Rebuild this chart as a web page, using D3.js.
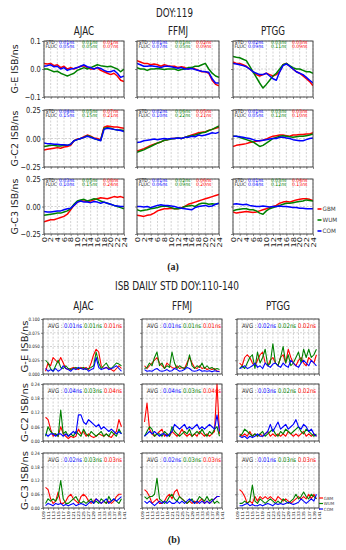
<!DOCTYPE html>
<html>
<head>
<meta charset="utf-8">
<script src="https://cdn.jsdelivr.net/npm/d3@7"></script>
<style>body{margin:0;background:#fff}</style>
</head>
<body>
<div id="chart"></div>
<script>
// ---- categories / ticks
const stations = ["AJAC", "FFMJ", "PTGG"]
const rowLabels = ["G-E ISB/ns", "G-C2 ISB/ns", "G-C3 ISB/ns"]
const seriesNames = ["GBM", "WUM", "COM"]
const seriesColors = ["#ff0000", "#008000", "#0000ff"]
const hours = [0,1,2,3,4,5,6,7,8,9,10,11,12,13,14,15,16,17,18,19,20,21,22,23,24]
const hourTicks = [0,2,4,6,8,10,12,14,16,18,20,22,24]
const days = [110,111,112,113,114,115,116,117,118,119,120,121,122,123,124,125,126,127,128,129,130,131,132,133,134,135,136,137,138,139,140]
const dayTicks = [109,111,113,115,117,119,121,123,125,127,129,131,133,135,137,139,141]
const yTicksA = [[-0.1, 0, 0.1], [-0.25, 0, 0.25], [-0.25, 0, 0.25]]
const yTicksB = [[0, 0.025, 0.05, 0.075, 0.1], [0, 0.06, 0.12, 0.18, 0.24], [0, 0.06, 0.12, 0.18, 0.24]]

// ---- (a) DOY 119 ISB series, hourly, per station [GBM, WUM, COM]
const hAJAC_E_gbm = [0.02,0.018,0.02,0.012,0.015,0.005,0.01,0.0,0.005,0.0,0.005,0.01,0.012,0.005,0.0,0.0,0.005,-0.005,-0.01,-0.015,-0.02,-0.015,-0.025,-0.04,-0.045]
const hAJAC_E_wum = [0.0,0.0,-0.005,-0.01,-0.008,-0.015,-0.02,-0.025,-0.02,-0.015,-0.005,0.0,0.005,0.0,0.005,0.01,0.015,0.012,0.01,0.008,0.01,0.005,0.0,-0.01,0.0]
const hAJAC_E_com = [0.01,0.012,0.015,0.008,0.01,0.0,0.005,-0.005,0.0,0.002,0.005,0.01,0.015,0.008,0.005,0.0,0.005,0.002,-0.005,-0.01,-0.01,-0.005,-0.015,-0.03,-0.025]
const hFFMJ_E_gbm = [0.03,0.025,0.02,0.02,0.015,0.018,0.015,0.01,0.015,0.012,0.01,0.01,0.005,0.008,0.005,0.0,0.005,0.0,-0.005,-0.01,-0.01,-0.015,-0.04,-0.055,-0.06]
const hFFMJ_E_wum = [0.005,0.0,0.0,-0.005,0.0,0.0,0.002,0.0,-0.002,0.0,0.0,0.0,-0.005,-0.002,0.0,0.005,0.005,0.01,0.01,0.015,0.02,0.0,-0.015,-0.025,-0.03]
const hFFMJ_E_com = [0.02,0.015,0.01,0.01,0.012,0.01,0.008,0.005,0.01,0.01,0.008,0.005,0.003,0.005,0.0,0.0,0.002,-0.002,-0.005,-0.008,-0.01,-0.012,-0.035,-0.05,-0.05]
const hPTGG_E_gbm = [0.025,0.02,0.02,0.015,0.01,0.0,-0.01,-0.02,-0.025,-0.02,-0.015,-0.02,-0.025,-0.02,-0.01,0.015,0.02,0.01,0.0,-0.01,-0.015,-0.025,-0.035,-0.045,-0.06]
const hPTGG_E_wum = [0.045,0.042,0.04,0.035,0.03,0.01,-0.01,-0.03,-0.05,-0.068,-0.055,-0.04,-0.025,-0.015,0.0,0.015,0.02,0.012,0.005,0.0,0.0,-0.005,-0.01,-0.01,-0.015]
const hPTGG_E_com = [0.02,0.018,0.015,0.012,0.008,0.0,-0.01,-0.015,-0.02,-0.02,-0.015,-0.025,-0.035,-0.04,-0.01,0.012,0.018,0.01,0.0,-0.01,-0.015,-0.02,-0.03,-0.04,-0.05]

const hAJAC_C2_gbm = [-0.1,-0.095,-0.09,-0.085,-0.08,-0.085,-0.075,-0.07,-0.06,-0.02,-0.005,0.0,0.015,0.03,0.02,0.005,0.0,-0.01,0.1,0.11,0.105,0.1,0.1,0.095,0.09]
const hAJAC_C2_wum = [-0.07,-0.065,-0.06,-0.06,-0.065,-0.065,-0.06,-0.06,-0.05,-0.02,-0.01,0.0,0.01,0.025,0.015,0.0,-0.01,-0.015,0.09,0.095,0.09,0.08,0.075,0.075,0.07]
const hAJAC_C2_com = [-0.04,-0.045,-0.045,-0.05,-0.05,-0.055,-0.055,-0.06,-0.05,-0.02,-0.01,0.0,0.01,0.02,0.01,0.0,-0.01,-0.02,0.08,0.09,0.085,0.08,0.075,0.07,0.06]
const hFFMJ_C2_gbm = [-0.11,-0.1,-0.09,-0.075,-0.06,-0.05,-0.04,-0.03,-0.015,-0.01,0.0,0.0,0.005,0.0,0.01,0.02,0.03,0.04,0.05,0.055,0.06,0.07,0.08,0.09,0.1]
const hFFMJ_C2_wum = [-0.12,-0.11,-0.1,-0.085,-0.07,-0.055,-0.04,-0.03,-0.015,-0.01,-0.005,0.0,0.005,0.0,0.01,0.02,0.025,0.03,0.04,0.05,0.055,0.07,0.08,0.095,0.11]
const hFFMJ_C2_com = [-0.035,-0.03,-0.02,-0.015,-0.01,-0.005,-0.01,-0.005,0.0,-0.005,0.0,0.0,0.005,0.0,0.01,0.01,0.02,0.015,0.03,0.025,0.03,0.04,0.05,0.045,0.055]
const hPTGG_C2_gbm = [-0.07,-0.06,-0.055,-0.05,-0.045,-0.035,-0.03,-0.025,-0.02,-0.015,-0.005,0.01,0.02,0.025,0.03,0.03,0.025,0.02,0.03,0.03,0.035,0.035,0.04,0.04,0.05]
const hPTGG_C2_wum = [0.02,0.02,0.01,0.0,-0.01,-0.02,-0.03,-0.05,-0.07,-0.06,-0.04,-0.02,0.0,0.01,0.02,0.025,0.02,0.015,0.01,0.015,0.02,0.02,0.025,0.03,0.04]
const hPTGG_C2_com = [0.02,0.02,0.015,0.01,0.005,0.0,-0.01,-0.02,-0.02,-0.015,-0.01,-0.005,0.0,0.0,0.01,0.01,0.005,0.0,-0.01,-0.015,-0.02,-0.02,-0.01,0.0,0.005]

const hAJAC_C3_gbm = [-0.14,-0.13,-0.12,-0.12,-0.11,-0.1,-0.09,-0.07,-0.03,0.01,0.04,0.05,0.05,0.045,0.05,0.06,0.07,0.08,0.075,0.07,0.08,0.09,0.085,0.09,0.08]
const hAJAC_C3_wum = [-0.08,-0.075,-0.07,-0.065,-0.06,-0.06,-0.05,-0.04,-0.02,0.02,0.05,0.06,0.065,0.05,0.06,0.07,0.065,0.05,0.04,0.03,0.02,0.01,0.0,-0.01,-0.02]
const hAJAC_C3_com = [-0.045,-0.05,-0.05,-0.045,-0.04,-0.04,-0.03,-0.02,-0.015,0.01,0.04,0.05,0.04,0.04,0.035,0.045,0.04,0.03,0.04,0.03,0.02,0.01,0.005,0.0,0.0]
const hFFMJ_C3_gbm = [-0.08,-0.085,-0.09,-0.08,-0.075,-0.06,-0.04,-0.03,-0.02,-0.02,-0.015,-0.02,-0.02,-0.01,0.0,0.02,0.03,0.04,0.05,0.06,0.07,0.08,0.09,0.1,0.11]
const hFFMJ_C3_wum = [-0.03,-0.04,-0.035,-0.03,-0.02,-0.015,-0.01,0.0,0.005,0.0,-0.01,-0.02,-0.02,-0.015,0.0,0.005,0.01,0.0,0.02,0.03,0.03,0.02,0.025,0.02,0.03]
const hFFMJ_C3_com = [0.0,0.0,-0.005,0.0,-0.01,0.0,0.01,0.015,0.01,0.01,0.005,0.0,-0.01,-0.015,-0.02,-0.025,-0.03,-0.01,0.0,0.005,0.01,0.0,0.005,0.02,0.03]
const hPTGG_C3_gbm = [-0.05,-0.06,-0.055,-0.05,-0.045,-0.05,-0.055,-0.05,-0.04,-0.03,-0.02,-0.01,0.0,0.01,0.03,0.04,0.045,0.04,0.05,0.06,0.065,0.07,0.07,0.065,0.055]
const hPTGG_C3_wum = [-0.04,-0.03,-0.025,-0.02,-0.02,-0.03,-0.03,-0.04,-0.06,-0.07,-0.04,-0.02,-0.01,0.0,0.01,0.02,0.03,0.03,0.035,0.04,0.045,0.05,0.06,0.055,0.05]
const hPTGG_C3_com = [0.02,0.025,0.02,0.015,0.02,0.01,0.005,0.0,0.0,0.005,0.0,-0.005,0.0,0.0,0.005,0.0,0.0,-0.005,-0.01,-0.01,-0.015,-0.015,-0.02,-0.02,-0.02]

// STD / FLUC per station, shown as [COM, WUM, GBM] (blue, green, red)
const stdE = [[0.01,0.01,0.01],[0.01,0.01,0.02],[0.02,0.03,0.03]]
const flucE = [[0.05,0.05,0.07],[0.07,0.05,0.09],[0.09,0.11,0.09]]
const stdC2 = [[0.04,0.05,0.07],[0.02,0.06,0.05],[0.01,0.03,0.03]]
const flucC2 = [[0.15,0.15,0.21],[0.10,0.22,0.21],[0.05,0.12,0.10]]
const stdC3 = [[0.03,0.05,0.08],[0.01,0.02,0.06],[0.01,0.03,0.04]]
const flucC3 = [[0.10,0.15,0.24],[0.06,0.09,0.20],[0.04,0.12,0.13]]

// ---- (b) daily STD DOY 110-140
const dAJAC_E_gbm = [0.005,0.02,0.015,0.03,0.025,0.02,0.03,0.02,0.01,0.008,0.01,0.012,0.01,0.008,0.012,0.01,0.012,0.008,0.02,0.035,0.045,0.04,0.015,0.01,0.012,0.01,0.008,0.005,0.01,0.015,0.01]
const dAJAC_E_wum = [0.025,0.02,0.01,0.005,0.015,0.025,0.012,0.01,0.015,0.01,0.008,0.01,0.012,0.01,0.01,0.012,0.008,0.01,0.012,0.015,0.04,0.02,0.01,0.015,0.02,0.012,0.01,0.015,0.02,0.018,0.015]
const dAJAC_E_com = [0.01,0.005,0.008,0.005,0.01,0.005,0.008,0.015,0.01,0.008,0.005,0.01,0.008,0.012,0.01,0.008,0.01,0.005,0.008,0.01,0.03,0.012,0.008,0.01,0.012,0.008,0.01,0.012,0.015,0.01,0.005]
const dFFMJ_E_gbm = [0.015,0.01,0.015,0.02,0.025,0.03,0.02,0.015,0.01,0.02,0.015,0.012,0.01,0.015,0.01,0.012,0.01,0.02,0.03,0.02,0.012,0.01,0.015,0.01,0.012,0.008,0.01,0.008,0.01,0.005,0.005]
const dFFMJ_E_wum = [0.01,0.012,0.02,0.015,0.03,0.04,0.015,0.02,0.01,0.015,0.012,0.04,0.02,0.01,0.015,0.012,0.01,0.015,0.035,0.015,0.01,0.015,0.012,0.02,0.01,0.015,0.01,0.012,0.008,0.01,0.008]
const dFFMJ_E_com = [0.008,0.005,0.006,0.005,0.008,0.01,0.006,0.005,0.006,0.008,0.005,0.006,0.01,0.008,0.005,0.006,0.008,0.012,0.01,0.006,0.005,0.006,0.008,0.005,0.006,0.005,0.006,0.004,0.006,0.005,0.004]
const dPTGG_E_gbm = [0.02,0.015,0.03,0.035,0.03,0.02,0.015,0.025,0.035,0.04,0.02,0.015,0.025,0.03,0.02,0.015,0.03,0.035,0.02,0.045,0.03,0.02,0.015,0.025,0.03,0.02,0.015,0.03,0.025,0.02,0.035]
const dPTGG_E_wum = [0.01,0.015,0.01,0.02,0.03,0.035,0.01,0.04,0.02,0.03,0.045,0.015,0.02,0.055,0.02,0.015,0.03,0.05,0.02,0.035,0.015,0.02,0.03,0.04,0.02,0.045,0.03,0.045,0.03,0.035,0.045]
const dPTGG_E_com = [0.01,0.012,0.015,0.01,0.012,0.015,0.02,0.012,0.015,0.01,0.02,0.015,0.012,0.018,0.02,0.015,0.012,0.02,0.015,0.012,0.025,0.02,0.015,0.012,0.02,0.025,0.02,0.015,0.025,0.02,0.015]

const dAJAC_C2_gbm = [0.1,0.09,0.05,0.02,0.03,0.02,0.06,0.03,0.02,0.01,0.02,0.015,0.02,0.05,0.03,0.04,0.02,0.03,0.02,0.015,0.02,0.03,0.025,0.02,0.03,0.02,0.015,0.03,0.04,0.09,0.06]
const dAJAC_C2_wum = [0.02,0.06,0.04,0.03,0.03,0.02,0.13,0.03,0.04,0.02,0.03,0.02,0.04,0.03,0.02,0.05,0.03,0.02,0.04,0.03,0.02,0.03,0.04,0.02,0.03,0.02,0.04,0.03,0.02,0.05,0.03]
const dAJAC_C2_com = [0.03,0.02,0.03,0.03,0.02,0.03,0.03,0.02,0.03,0.02,0.03,0.04,0.03,0.11,0.11,0.08,0.07,0.09,0.08,0.07,0.06,0.07,0.05,0.06,0.05,0.04,0.05,0.04,0.03,0.04,0.03]
const dFFMJ_C2_gbm = [0.08,0.16,0.05,0.03,0.02,0.03,0.04,0.05,0.02,0.03,0.02,0.04,0.03,0.02,0.03,0.05,0.03,0.02,0.03,0.02,0.03,0.02,0.04,0.03,0.02,0.03,0.02,0.03,0.04,0.24,0.03]
const dFFMJ_C2_wum = [0.02,0.04,0.06,0.05,0.02,0.03,0.03,0.02,0.04,0.03,0.02,0.06,0.04,0.03,0.02,0.03,0.04,0.03,0.05,0.02,0.03,0.04,0.03,0.05,0.03,0.02,0.04,0.03,0.05,0.06,0.02]
const dFFMJ_C2_com = [0.02,0.03,0.04,0.03,0.04,0.03,0.02,0.03,0.03,0.02,0.03,0.04,0.07,0.06,0.05,0.06,0.07,0.05,0.06,0.05,0.06,0.07,0.05,0.06,0.05,0.06,0.07,0.06,0.05,0.11,0.04]
const dPTGG_C2_gbm = [0.03,0.02,0.03,0.02,0.04,0.02,0.03,0.02,0.03,0.02,0.03,0.04,0.02,0.03,0.02,0.03,0.02,0.03,0.02,0.04,0.03,0.02,0.03,0.02,0.03,0.04,0.02,0.03,0.02,0.03,0.02]
const dPTGG_C2_wum = [0.02,0.03,0.05,0.04,0.03,0.02,0.03,0.02,0.03,0.04,0.02,0.03,0.04,0.05,0.03,0.02,0.04,0.03,0.05,0.04,0.03,0.04,0.05,0.06,0.04,0.03,0.05,0.04,0.03,0.02,0.03]
const dPTGG_C2_com = [0.02,0.015,0.02,0.01,0.02,0.015,0.02,0.03,0.02,0.02,0.03,0.04,0.07,0.04,0.06,0.08,0.05,0.06,0.07,0.05,0.06,0.07,0.09,0.06,0.05,0.07,0.06,0.04,0.05,0.03,0.02]

const dAJAC_C3_gbm = [0.09,0.08,0.04,0.02,0.03,0.07,0.02,0.02,0.03,0.05,0.06,0.04,0.03,0.02,0.05,0.06,0.05,0.03,0.02,0.03,0.04,0.03,0.02,0.03,0.02,0.03,0.02,0.03,0.05,0.06,0.06]
const dAJAC_C3_wum = [0.02,0.04,0.03,0.04,0.03,0.05,0.12,0.04,0.02,0.02,0.03,0.04,0.05,0.03,0.02,0.03,0.02,0.03,0.04,0.02,0.03,0.02,0.04,0.03,0.02,0.05,0.03,0.04,0.03,0.02,0.04]
const dAJAC_C3_com = [0.01,0.02,0.015,0.01,0.02,0.015,0.02,0.01,0.015,0.01,0.015,0.02,0.01,0.015,0.02,0.015,0.01,0.02,0.03,0.02,0.04,0.03,0.02,0.03,0.04,0.02,0.03,0.04,0.03,0.04,0.05]
const dFFMJ_C3_gbm = [0.08,0.07,0.05,0.02,0.03,0.04,0.02,0.02,0.03,0.05,0.06,0.04,0.07,0.08,0.05,0.04,0.03,0.02,0.03,0.02,0.03,0.02,0.03,0.04,0.02,0.03,0.02,0.03,0.04,0.05,0.05]
const dFFMJ_C3_wum = [0.05,0.04,0.05,0.05,0.06,0.13,0.04,0.03,0.02,0.03,0.05,0.06,0.04,0.03,0.05,0.04,0.03,0.02,0.03,0.04,0.02,0.03,0.05,0.04,0.03,0.05,0.03,0.04,0.02,0.03,0.02]
const dFFMJ_C3_com = [0.03,0.02,0.03,0.02,0.01,0.02,0.03,0.02,0.03,0.02,0.03,0.02,0.02,0.03,0.02,0.03,0.02,0.03,0.04,0.03,0.02,0.03,0.02,0.03,0.02,0.03,0.02,0.03,0.04,0.05,0.05]
const dPTGG_C3_gbm = [0.08,0.07,0.05,0.02,0.03,0.02,0.05,0.03,0.05,0.04,0.05,0.04,0.05,0.04,0.03,0.05,0.04,0.03,0.04,0.03,0.02,0.03,0.04,0.05,0.04,0.05,0.04,0.06,0.04,0.06,0.04]
const dPTGG_C3_wum = [0.02,0.02,0.03,0.02,0.03,0.1,0.03,0.02,0.04,0.03,0.02,0.03,0.04,0.03,0.02,0.03,0.02,0.04,0.03,0.02,0.03,0.04,0.06,0.04,0.05,0.07,0.05,0.04,0.06,0.05,0.04]
const dPTGG_C3_com = [0.01,0.01,0.015,0.02,0.01,0.015,0.01,0.01,0.015,0.01,0.015,0.02,0.015,0.01,0.02,0.015,0.02,0.015,0.02,0.025,0.02,0.015,0.02,0.025,0.04,0.03,0.02,0.03,0.04,0.03,0.06]

// AVG per station, shown as [COM, WUM, GBM]
const avgE = [[0.01,0.01,0.01],[0.01,0.01,0.01],[0.02,0.02,0.02]]
const avgC2 = [[0.04,0.03,0.04],[0.04,0.03,0.04],[0.03,0.02,0.02]]
const avgC3 = [[0.02,0.03,0.03],[0.02,0.03,0.03],[0.01,0.03,0.03]]

// tables built from the arrays above: [row][station] -> [gbm, wum, com]
const linesA = [
  [[hAJAC_E_gbm,hAJAC_E_wum,hAJAC_E_com],[hFFMJ_E_gbm,hFFMJ_E_wum,hFFMJ_E_com],[hPTGG_E_gbm,hPTGG_E_wum,hPTGG_E_com]],
  [[hAJAC_C2_gbm,hAJAC_C2_wum,hAJAC_C2_com],[hFFMJ_C2_gbm,hFFMJ_C2_wum,hFFMJ_C2_com],[hPTGG_C2_gbm,hPTGG_C2_wum,hPTGG_C2_com]],
  [[hAJAC_C3_gbm,hAJAC_C3_wum,hAJAC_C3_com],[hFFMJ_C3_gbm,hFFMJ_C3_wum,hFFMJ_C3_com],[hPTGG_C3_gbm,hPTGG_C3_wum,hPTGG_C3_com]]
]
const linesB = [
  [[dAJAC_E_gbm,dAJAC_E_wum,dAJAC_E_com],[dFFMJ_E_gbm,dFFMJ_E_wum,dFFMJ_E_com],[dPTGG_E_gbm,dPTGG_E_wum,dPTGG_E_com]],
  [[dAJAC_C2_gbm,dAJAC_C2_wum,dAJAC_C2_com],[dFFMJ_C2_gbm,dFFMJ_C2_wum,dFFMJ_C2_com],[dPTGG_C2_gbm,dPTGG_C2_wum,dPTGG_C2_com]],
  [[dAJAC_C3_gbm,dAJAC_C3_wum,dAJAC_C3_com],[dFFMJ_C3_gbm,dFFMJ_C3_wum,dFFMJ_C3_com],[dPTGG_C3_gbm,dPTGG_C3_wum,dPTGG_C3_com]]
]
const stdA = [stdE, stdC2, stdC3]
const flucA = [flucE, flucC2, flucC3]
const avgB = [avgE, avgC2, avgC3]

// ---- layout
const width = 346, height = 550
const FONT = "DejaVu Sans, sans-serif"
const A_X = [44, 137, 233], A_W = [80, 82, 80]
const A_Y = [41, 110, 179], A_H = [56, 57, 55]
const B_X = [43, 142, 237], B_W = [81, 80, 82]
const B_Y = [319, 384, 453], B_H = [55, 57, 55]
const textColors = ["#0000ff", "#008000", "#ff0000"]

const svg = d3.select("#chart").append("svg")
    .attr("width", width)
    .attr("height", height)
svg.append("rect").attr("width", width).attr("height", height).attr("fill", "#fff")

function txt(x, y, s, o) {
    o = o || {}
    let tr = "translate(" + x + "," + y + ") scale(" + (o.sx || 0.76) + ",1)"
    if (o.rot) tr += " rotate(" + o.rot + ")"
    return svg.append("text")
        .attr("transform", tr)
        .attr("font-family", o.fam || FONT)
        .attr("font-size", o.size || 8)
        .attr("font-weight", o.weight || "normal")
        .attr("text-anchor", o.anchor || "start")
        .attr("fill", o.fill || "#222")
        .text(s)
}

let clipId = 0
function panel(p) {
    const x = d3.scaleLinear().domain(p.xDom).range([p.x, p.x + p.w])
    const y = d3.scaleLinear().domain(p.yDom).range([p.y + p.h, p.y])
    const g = svg.append("g")

    // dashed grid
    g.append("g").selectAll("line").data(p.xTicks).join("line")
        .attr("x1", d => x(d)).attr("x2", d => x(d))
        .attr("y1", p.y).attr("y2", p.y + p.h)
        .attr("stroke", "#b5b5b5").attr("stroke-width", 0.6).attr("stroke-dasharray", "2,1.5")
    g.append("g").selectAll("line").data(p.yTicks).join("line")
        .attr("x1", p.x).attr("x2", p.x + p.w)
        .attr("y1", d => y(d)).attr("y2", d => y(d))
        .attr("stroke", "#b5b5b5").attr("stroke-width", 0.6).attr("stroke-dasharray", "2,1.5")

    // series
    const id = "clip" + (clipId++)
    g.append("clipPath").attr("id", id).append("rect")
        .attr("x", p.x).attr("y", p.y - 1).attr("width", p.w).attr("height", p.h + 2)
    const line = d3.line().x((d, i) => x(p.xs[i])).y(d => y(d))
    g.append("g").attr("clip-path", "url(#" + id + ")")
        .selectAll("path").data(p.series).join("path")
        .attr("d", line)
        .attr("fill", "none")
        .attr("stroke", (d, i) => seriesColors[i])
        .attr("stroke-width", p.lw)
        .attr("stroke-linejoin", "round")

    // frame
    g.append("rect").attr("x", p.x).attr("y", p.y).attr("width", p.w).attr("height", p.h)
        .attr("fill", "none").attr("stroke", "#3a3a3a").attr("stroke-width", 0.9)

    // axes
    const ay = g.append("g").attr("transform", "translate(" + p.x + ",0)")
        .call(d3.axisLeft(y).tickValues(p.yTicks).tickSize(2).tickPadding(2)
            .tickFormat(p.showY ? p.yFmt : ""))
    ay.select(".domain").remove()
    ay.selectAll("line").attr("stroke", "#3a3a3a").attr("stroke-width", 0.6)
    ay.selectAll("text").attr("font-family", FONT).attr("font-size", p.tickSize)
        .attr("fill", "#222").attr("transform", "scale(" + p.tickSx + ",1)")

    const ax = g.append("g").attr("transform", "translate(0," + (p.y + p.h) + ")")
        .call(d3.axisBottom(x).tickValues(p.xTicks).tickSize(2)
            .tickFormat(p.showX ? (d => d) : ""))
    ax.select(".domain").remove()
    ax.selectAll("line").attr("stroke", "#3a3a3a").attr("stroke-width", 0.6)
    ax.selectAll("text").attr("font-family", FONT).attr("font-size", p.tickSize)
        .attr("fill", "#222")
        .attr("transform", "scale(" + p.tickSx + ",1) rotate(-90)")
        .attr("text-anchor", "end").attr("x", -3).attr("y", 0).attr("dy", "0.35em")
}

// ================= (a)
txt(174.5, 16.5, "DOY:119", {size: 11.5, anchor: "middle"})
stations.forEach((s, c) => txt(A_X[c] + A_W[c] / 2, 35, s, {size: 11.5, anchor: "middle"}))
const fmtA = [d3.format(".1f"), d3.format(".2f"), d3.format(".2f")]
const yDomA = [[-0.1, 0.1], [-0.25, 0.25], [-0.25, 0.25]]

for (let r = 0; r < 3; r++) {
    txt(18, A_Y[r] + A_H[r] / 2, rowLabels[r], {size: 9.5, anchor: "middle", rot: -90, sx: 0.92})
    for (let c = 0; c < 3; c++) {
        panel({
            x: A_X[c], y: A_Y[r], w: A_W[c], h: A_H[r],
            xDom: [0, 24], yDom: yDomA[r], xs: hours,
            xTicks: hourTicks, yTicks: yTicksA[r], yFmt: fmtA[r],
            showY: c === 0, showX: r === 2,
            series: linesA[r][c], lw: 1.5, tickSize: 8.3, tickSx: 0.8
        })
        const px = A_X[c], py = A_Y[r]
        txt(px + 1.5, py + 3, "STD :", {size: 4.8, sx: 0.95})
        txt(px + 1.5, py + 7, "FLUC", {size: 4.8, sx: 0.95})
        const offs = [15, 38, 59]
        for (let k = 0; k < 3; k++) {
            txt(px + offs[k], py + 3, stdA[r][c][k].toFixed(2) + "ns", {size: 4.8, sx: 0.95, fill: textColors[k]})
            txt(px + offs[k], py + 7, flucA[r][c][k].toFixed(2) + "ns", {size: 4.8, sx: 0.95, fill: textColors[k]})
        }
    }
}
// legend (a)
seriesNames.forEach((n, i) => {
    const ly = 209 + i * 11
    svg.append("line").attr("x1", 317.5).attr("x2", 321.5).attr("y1", ly).attr("y2", ly)
        .attr("stroke", seriesColors[i]).attr("stroke-width", 1.6)
    txt(322.5, ly + 2.2, n, {size: 6, sx: 0.95, fill: "#444"})
})
txt(173, 270, "(a)", {size: 10.5, sx: 0.95, weight: "bold", fam: "Liberation Serif, serif"})
    .attr("text-anchor", "middle")

// ================= (b)
txt(177, 290, "ISB DAILY STD DOY:110-140", {size: 11.5, anchor: "middle", sx: 0.78})
stations.forEach((s, c) => txt(B_X[c] + B_W[c] / 2, 309.5, s, {size: 11.5, anchor: "middle"}))
const fmtB = [d3.format(".3f"), d3.format(".2f"), d3.format(".2f")]
const yDomB = [[0, 0.1], [0, 0.24], [0, 0.24]]

for (let r = 0; r < 3; r++) {
    txt(28, B_Y[r] + B_H[r] / 2, rowLabels[r], {size: 10, anchor: "middle", rot: -90, sx: 0.92})
    for (let c = 0; c < 3; c++) {
        panel({
            x: B_X[c], y: B_Y[r], w: B_W[c], h: B_H[r],
            xDom: [109, 141], yDom: yDomB[r], xs: days,
            xTicks: dayTicks, yTicks: yTicksB[r], yFmt: fmtB[r],
            showY: c === 0, showX: r === 2,
            series: linesB[r][c], lw: 1.1, tickSize: 4.6, tickSx: 0.85
        })
        const px = B_X[c], py = B_Y[r] + 8.5
        txt(px + 5, py, "AVG :", {size: 6.3, sx: 0.85, fill: "#333"})
        const offs = [21, 41, 61]
        for (let k = 0; k < 3; k++) {
            txt(px + offs[k], py, avgB[r][c][k].toFixed(2) + "ns", {size: 6.3, sx: 0.85, fill: textColors[k]})
        }
    }
}
// legend (b)
seriesNames.forEach((n, i) => {
    const ly = 498 + i * 5.5
    svg.append("line").attr("x1", 319).attr("x2", 323).attr("y1", ly).attr("y2", ly)
        .attr("stroke", seriesColors[i]).attr("stroke-width", 1.2)
    txt(323.8, ly + 1.5, n, {size: 4.3, sx: 0.95, fill: "#444"})
})
txt(174, 543, "(b)", {size: 10.5, sx: 0.95, weight: "bold", fam: "Liberation Serif, serif"})
    .attr("text-anchor", "middle")
</script>
</body>
</html>
